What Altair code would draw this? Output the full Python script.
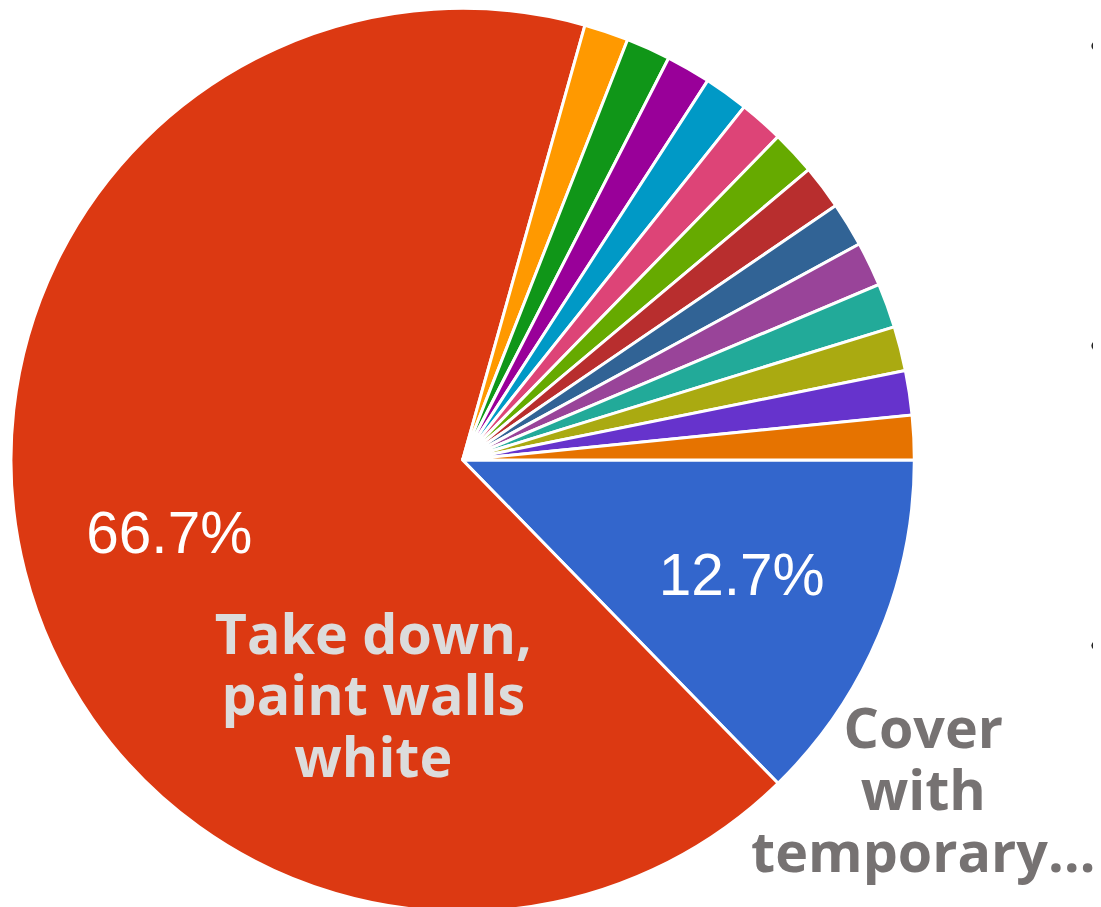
import math
import altair as alt
import pandas as pd

# --- data (63 responses) ---
categories = [
    "Cover with temporary…",
    "Take down, paint walls white",
    "Option 3", "Option 4", "Option 5", "Option 6", "Option 7",
    "Option 8", "Option 9", "Option 10", "Option 11", "Option 12",
    "Option 13", "Option 14", "Option 15",
]
counts = [8, 42, 1, 1, 1, 1, 1, 1, 1, 1, 1, 1, 1, 1, 1]
slice_labels = ["12.7%", "66.7%"] + [""] * 13
palette = [
    "#3366cc", "#dc3912", "#ff9900", "#109618", "#990099", "#0099c6",
    "#dd4477", "#66aa00", "#b82e2e", "#316395", "#994499", "#22aa99",
    "#aaaa11", "#6633cc", "#e67300",
]

df = pd.DataFrame({
    "category": categories,
    "count": counts,
    "label": slice_labels,
    "idx": list(range(len(categories))),
})

CX, CY, R = 458, 452, 455
theta_scale = alt.Scale(range=[math.pi / 2, math.pi / 2 + 2 * math.pi])
color_scale = alt.Scale(domain=categories, range=palette)

base = alt.Chart(df).encode(
    theta=alt.Theta("count:Q", stack=True, scale=theta_scale),
    order=alt.Order("idx:Q"),
    x=alt.value(CX),
    y=alt.value(CY),
)

pie = base.mark_arc(outerRadius=R, stroke="white", strokeWidth=3).encode(
    color=alt.Color("category:N", scale=color_scale, legend=None),
)

pct = base.mark_text(
    radius=305, font="Liberation Sans", fontSize=59, color="white",
    align="center", baseline="middle",
).encode(text="label:N")

ann1 = alt.Chart(pd.DataFrame({"t": ["Take down,\npaint walls\nwhite"]})).mark_text(
    font="Open Sans", fontWeight="bold", fontSize=56, color="#dcdcdc",
    align="center", baseline="alphabetic", lineHeight=62, lineBreak="\n",
).encode(text="t:N", x=alt.value(368), y=alt.value(647))

ann2 = alt.Chart(pd.DataFrame({"t": ["Cover\nwith\ntemporary…"]})).mark_text(
    font="Open Sans", fontWeight="bold", fontSize=56, color="#767272",
    align="center", baseline="alphabetic", lineHeight=62.5, lineBreak="\n",
).encode(text="t:N", x=alt.value(922), y=alt.value(742))

dots = []
for yy in (35, 337, 639):
    dots.append(
        alt.Chart(pd.DataFrame({"d": [0]})).mark_circle(
            size=85, color="#222222", opacity=1
        ).encode(x=alt.value(1096), y=alt.value(yy))
    )

chart = alt.layer(pie, pct, ann1, ann2, *dots).properties(
    width=1093, height=899, padding=0,
    autosize=alt.AutoSizeParams(type="none"),
    background="white",
).configure_view(stroke=None)

chart.save("out.html", embed_options={"renderer": "svg", "actions": False})
